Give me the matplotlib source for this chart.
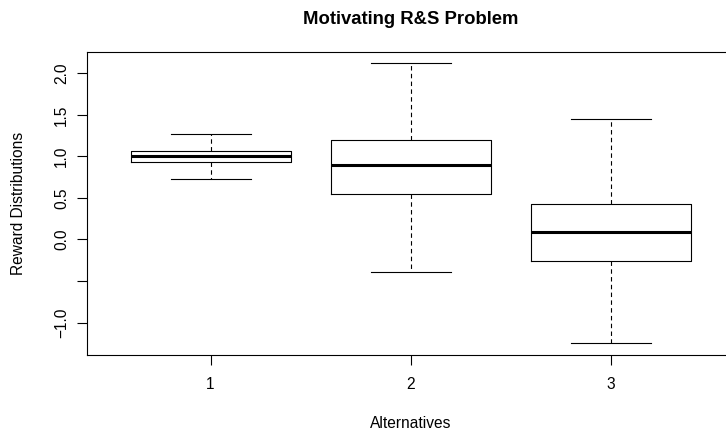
import matplotlib
matplotlib.use("Agg")
from matplotlib import pyplot as plt

plt.rcParams['font.family'] = ['Liberation Sans', 'DejaVu Sans']

# DATA ########################################################################

alternatives = [1, 2, 3]
whisker_low = [0.73, -0.39, -1.25]
q1 = [0.93, 0.545, -0.265]
medians = [1.0, 0.895, 0.09]
q3 = [1.07, 1.195, 0.43]
whisker_high = [1.27, 2.125, 1.45]

y_ticks = [-1.0, -0.5, 0.0, 0.5, 1.0, 1.5, 2.0]
y_tick_labels = ["\u22121.0", "", "0.0", "0.5", "1.0", "1.5", "2.0"]

FONT_SIZE = 11.2

# PLOT ########################################################################

W, H = 726, 434
fig = plt.figure(figsize=(W / 100, H / 100), dpi=100)
left, right, top, bottom = 86.5, 735.0, 51.7, 354.5
ax = fig.add_axes([left / W, 1 - bottom / H, (right - left) / W, (bottom - top) / H])

stats = []
for i in range(len(alternatives)):
    stats.append(dict(whislo=whisker_low[i], q1=q1[i], med=medians[i],
                      q3=q3[i], whishi=whisker_high[i], fliers=[]))

ax.bxp(stats, positions=alternatives, widths=0.8, showfliers=False,
       boxprops=dict(color='black', linewidth=0.8),
       medianprops=dict(color='black', linewidth=2.2, solid_capstyle='butt'),
       whiskerprops=dict(color='black', linewidth=0.8, linestyle=(0, (4, 3))),
       capprops=dict(color='black', linewidth=0.8),
       capwidths=0.4)

span = whisker_high[1] - whisker_low[2]
ax.set_ylim(whisker_low[2] - 0.04 * span, whisker_high[1] + 0.04 * span)
ax.set_xlim(0.38, 3.62)

ax.set_yticks(y_ticks)
ax.set_yticklabels(y_tick_labels, rotation=90, va='center', fontsize=FONT_SIZE)
ax.set_xticks(alternatives)
ax.set_xticklabels([str(a) for a in alternatives], fontsize=FONT_SIZE)
ax.tick_params(direction='out', length=7.5, width=0.8)
ax.tick_params(axis='y', pad=5)
ax.tick_params(axis='x', pad=9)

for sp in ax.spines.values():
    sp.set_linewidth(0.8)

ax.set_xlabel("Alternatives", fontsize=FONT_SIZE, va='center')
ax.xaxis.set_label_coords(0.5, -(423 - bottom) / (bottom - top))
ax.set_ylabel("Reward Distributions", fontsize=FONT_SIZE, va='center')
ax.yaxis.set_label_coords((19 - left) / (right - left), 0.5)
fig.text((left + right) / 2 / W, 1 - 24 / H, "Motivating R&S Problem",
         ha='center', va='baseline', fontsize=13.3, fontweight='bold')

fig.savefig("out.png", dpi=100)
